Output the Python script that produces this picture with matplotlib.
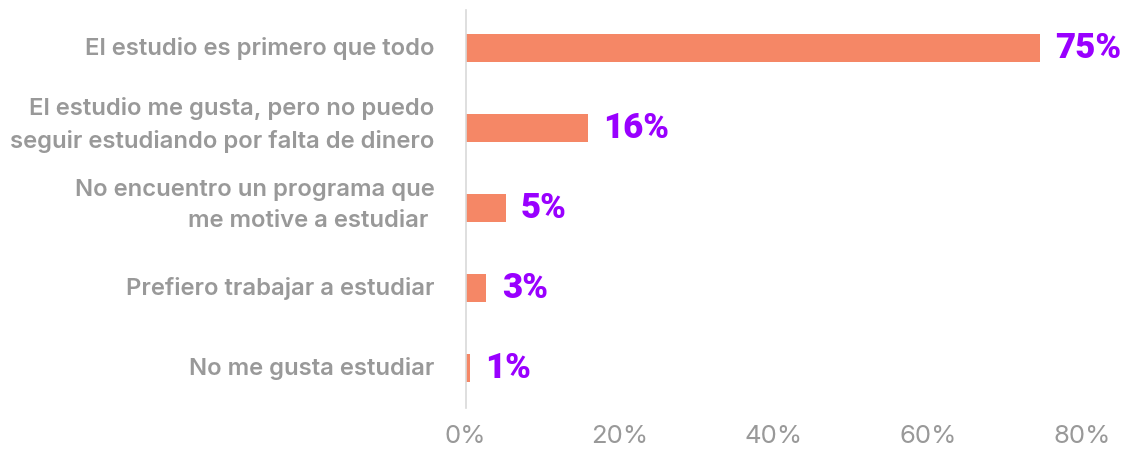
import matplotlib
matplotlib.use("Agg")
import matplotlib.pyplot as plt
import matplotlib.transforms as mtransforms
from matplotlib.ticker import FuncFormatter

categories = [
    "El estudio es primero que todo",
    "El estudio me gusta, pero no puedo\nseguir estudiando por falta de dinero",
    "No encuentro un programa que\nme motive a estudiar ",
    "Prefiero trabajar a estudiar",
    "No me gusta estudiar",
]
values = [74.5, 15.9, 5.2, 2.7, 0.6]
value_labels = ["75%", "16%", "5%", "3%", "1%"]
xticks = [0, 20, 40, 60, 80]

plt.rcParams['font.family'] = ['Inter', 'DejaVu Sans']

fig = plt.figure(figsize=(11.3, 4.51), dpi=100)
ax = fig.add_axes([0.412, 0.095, 0.546, 0.883])

ypos = list(range(len(categories)))
ax.barh(ypos, values, height=0.35, color="#f58766")
for y, v, lab in zip(ypos, values, value_labels):
    ax.text(v + 2.0, y, lab, va="center", ha="left", color="#9900ff",
            fontsize=25, fontweight="black", family=["Roboto", "DejaVu Sans"])

ax.set_xlim(0, 80)
ax.set_ylim(4.5, -0.48)
ax.set_yticks(ypos)
ax.set_yticklabels([])
base = ax.get_yaxis_transform()
for y, cat in zip(ypos, categories):
    dy = 2.2 / 72 if "\n" in cat else 0
    tr = base + mtransforms.ScaledTranslation(-31 / 100, dy, fig.dpi_scale_trans)
    ax.text(0, y, cat, transform=tr, ha="right", va="center", fontsize=17.2,
            color="#999999", fontweight="semibold", linespacing=1.55,
            multialignment="right")
ax.set_xticks(xticks)
ax.xaxis.set_major_formatter(FuncFormatter(lambda x, p: f"{int(x)}%"))
ax.tick_params(axis="x", length=0, labelsize=18.5, labelcolor="#999999", pad=12)
ax.tick_params(axis="y", length=0)
for s in ["top", "right", "bottom"]:
    ax.spines[s].set_visible(False)
ax.spines["left"].set_color("#d9d9d9")
ax.spines["left"].set_linewidth(1.2)

fig.savefig("out.png", dpi=100)
